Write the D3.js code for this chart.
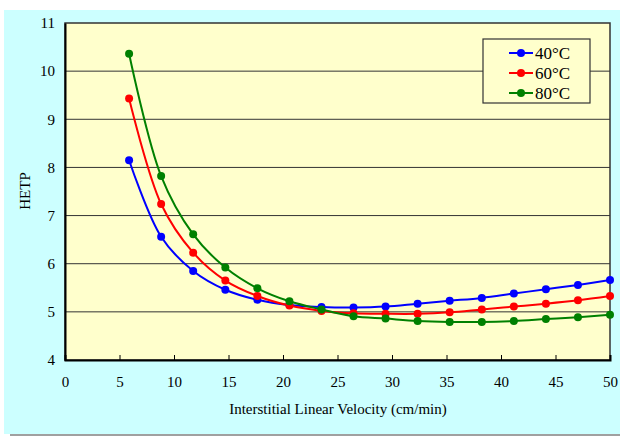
<!DOCTYPE html>
<meta charset="utf-8">
<script src="https://d3js.org/d3.v7.min.js"></script>
<style>
  body { margin: 0; background: #fff; }
  svg text { font-family: "Liberation Serif", "Times New Roman", serif; fill: #000; }
</style>
<div id="chart"></div>
<script>

// velocities (cm/min)
var velocity = [5.88, 8.82, 11.76, 14.71, 17.65, 20.59, 23.53, 26.47, 29.41, 32.35, 35.29, 38.24, 41.18, 44.12, 47.06, 50];

// HETP per temperature
var hetp40 = [8.15, 6.56, 5.85, 5.46, 5.25, 5.14, 5.10, 5.09, 5.11, 5.17, 5.23, 5.29, 5.38, 5.47, 5.56, 5.66];
var hetp60 = [9.43, 7.24, 6.23, 5.65, 5.33, 5.13, 5.02, 4.97, 4.96, 4.96, 4.99, 5.05, 5.11, 5.17, 5.24, 5.33];
var hetp80 = [10.36, 7.82, 6.61, 5.92, 5.49, 5.22, 5.05, 4.91, 4.86, 4.81, 4.79, 4.79, 4.81, 4.85, 4.89, 4.94];

var seriesNames = ["40\u00b0C", "60\u00b0C", "80\u00b0C"];
var seriesColors = ["#0000ff", "#ff0000", "#008000"];

var xTicks = [0, 5, 10, 15, 20, 25, 30, 35, 40, 45, 50];
var yTicks = [4, 5, 6, 7, 8, 9, 10, 11];

var W = 620, H = 436;
var margin = {top: 23, right: 10, bottom: 76, left: 65},
    width = 610 - margin.left,
    height = 360 - margin.top;

var svg = d3.select("#chart").append("svg")
    .attr("width", W)
    .attr("height", H);

// outer panel
svg.append("rect")
    .attr("x", 4).attr("y", 10)
    .attr("width", W - 4).attr("height", 424)
    .style("fill", "#ccffff");
svg.append("line")
    .attr("x1", 10).attr("x2", W)
    .attr("y1", 435).attr("y2", 435)
    .style("stroke", "#808080").style("stroke-width", 1.5);

var g = svg.append("g")
    .attr("transform", "translate(" + margin.left + "," + margin.top + ")");

var x = d3.scaleLinear().domain([0, 50]).range([0, width]);
var y = d3.scaleLinear().domain([4, 11]).range([height, 0]);

// plot area
g.append("rect")
    .attr("width", width).attr("height", height)
    .style("fill", "#ffffcc");

// gridlines
g.append("g")
  .selectAll("line")
  .data(yTicks.slice(1, -1))
  .enter().append("line")
    .attr("x1", 0).attr("x2", width)
    .attr("y1", function(d) { return y(d); })
    .attr("y2", function(d) { return y(d); })
    .style("stroke", "#333").style("stroke-width", 1);

// frame
g.append("rect")
    .attr("width", width).attr("height", height)
    .style("fill", "none")
    .style("stroke", "#333").style("stroke-width", 1.5);

// x axis
var xAxis = g.append("g")
    .attr("transform", "translate(0," + height + ")")
    .call(d3.axisBottom(x).tickValues(xTicks).tickSize(-5).tickPadding(16).tickFormat(d3.format("d")));
xAxis.select(".domain").style("stroke", "#000").style("stroke-width", 2);
xAxis.selectAll("text")
    .style("font-size", "15px");

// y axis
var yAxis = g.append("g")
    .call(d3.axisLeft(y).tickValues(yTicks).tickSize(0).tickPadding(10).tickFormat(d3.format("d")));
yAxis.select(".domain").style("stroke", "#000").style("stroke-width", 2);
yAxis.selectAll("text")
    .style("font-size", "15px");

// axis titles
svg.append("text")
    .attr("x", 338).attr("y", 414)
    .attr("text-anchor", "middle")
    .style("font-size", "15px")
    .text("Interstitial Linear Velocity (cm/min)");

svg.append("text")
    .attr("transform", "translate(30,191) rotate(-90)")
    .attr("text-anchor", "middle")
    .style("font-size", "15px")
    .text("HETP");

// series
var allSeries = [hetp40, hetp60, hetp80];
var line = d3.line()
    .x(function(d, i) { return x(velocity[i]); })
    .y(function(d) { return y(d); })
    .curve(d3.curveCatmullRom.alpha(0.5));

allSeries.forEach(function(vals, k) {
  g.append("path")
      .datum(vals)
      .attr("d", line)
      .style("fill", "none")
      .style("stroke", seriesColors[k])
      .style("stroke-width", 2);
  g.append("g")
    .selectAll("circle")
    .data(vals)
    .enter().append("circle")
      .attr("cx", function(d, i) { return x(velocity[i]); })
      .attr("cy", function(d) { return y(d); })
      .attr("r", 4)
      .style("fill", seriesColors[k]);
});

// legend
var legend = svg.append("g").attr("transform", "translate(483,39)");
legend.append("rect")
    .attr("width", 107).attr("height", 64)
    .style("fill", "#ffffcc")
    .style("stroke", "#333").style("stroke-width", 1.2);
seriesNames.forEach(function(name, k) {
  var ly = 14 + k * 20;
  legend.append("line")
      .attr("x1", 26).attr("x2", 50)
      .attr("y1", ly).attr("y2", ly)
      .style("stroke", seriesColors[k]).style("stroke-width", 2);
  legend.append("circle")
      .attr("cx", 38).attr("cy", ly).attr("r", 4)
      .style("fill", seriesColors[k]);
  legend.append("text")
      .attr("x", 52).attr("y", ly + 6)
      .style("font-size", "17px")
      .text(name);
});

</script>
